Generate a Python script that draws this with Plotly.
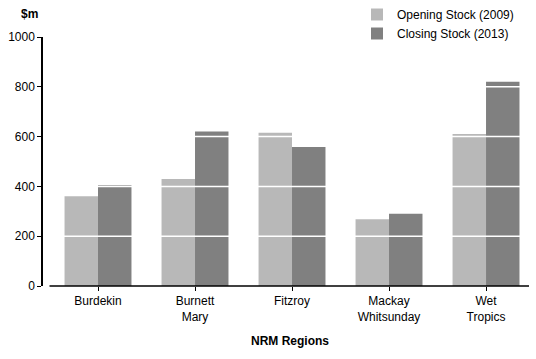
import plotly.graph_objects as go

categories = ["Burdekin", "Burnett<br>Mary", "Fitzroy", "Mackay<br>Whitsunday", "Wet<br>Tropics"]
opening_2009 = [360, 430, 615, 268, 610]
closing_2013 = [405, 620, 558, 290, 820]
y_ticks = [0, 200, 400, 600, 800, 1000]

FONT = "Liberation Sans"
W, H = 536, 359
L, R, T, B = 43, 7, 37, 73
PW, PH = W - L - R, H - T - B


def px_x(px):
    return (px - L) / PW


def px_y(py):
    return (H - B - py) / PH


fig = go.Figure()
fig.add_trace(go.Bar(x=categories, y=opening_2009, name="Opening Stock (2009)",
                     marker=dict(color="#b8b8b8", line=dict(width=0))))
fig.add_trace(go.Bar(x=categories, y=closing_2013, name="Closing Stock (2013)",
                     marker=dict(color="#808080", line=dict(width=0))))

for v in y_ticks[1:-1]:
    fig.add_shape(type="line", xref="paper", yref="y", x0=0, x1=1, y0=v, y1=v,
                  line=dict(color="white", width=1.5), layer="above")

# x-axis baseline starting a little right of the y-axis line
fig.add_shape(type="line", xref="x", yref="paper", x0=-0.5, x1=4.45, y0=0, y1=0,
              line=dict(color="black", width=1.5), layer="above")

fig.update_layout(
    width=W, height=H,
    margin=dict(l=L, r=R, t=T, b=B, autoexpand=False),
    paper_bgcolor="white", plot_bgcolor="white",
    font=dict(family=FONT, size=12, color="black"),
    barmode="group", bargap=0.31, bargroupgap=0,
    showlegend=True,
    legend=dict(xref="container", yref="container", x=357 / W, y=1.0,
                xanchor="left", yanchor="top",
                bgcolor="rgba(0,0,0,0)", font=dict(size=12), tracegroupgap=0,
                itemwidth=30),
    xaxis=dict(showline=False, automargin=False, range=[-0.567, 4.443],
               ticks="outside", ticklen=4, tickcolor="black", showgrid=False,
               zeroline=False, tickfont=dict(size=12)),
    yaxis=dict(range=[0, 1000], tickvals=y_ticks, showline=True, linecolor="black",
               linewidth=1.5, ticks="outside", ticklen=4, tickcolor="black",
               showgrid=False, zeroline=False, automargin=False,
               tickfont=dict(size=12)),
    annotations=[
        dict(text="<b>$m</b>", xref="paper", yref="paper", x=px_x(19), y=px_y(5),
             xanchor="left", yanchor="top", showarrow=False, font=dict(size=12)),
        dict(text="<b>NRM Regions</b>", xref="paper", yref="paper",
             x=px_x(290), y=px_y(332),
             xanchor="center", yanchor="top", showarrow=False, font=dict(size=12)),
    ],
)

fig.write_html("out.html", config={"displayModeBar": False},
               post_script="document.body.style.margin='0';")
